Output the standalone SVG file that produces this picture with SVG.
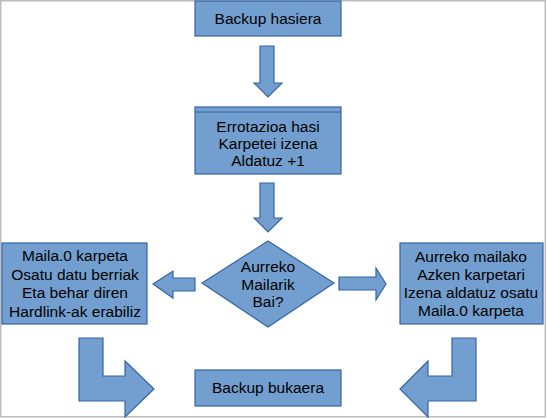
<svg xmlns="http://www.w3.org/2000/svg" width="547" height="418" viewBox="0 0 547 418">
<style>
.s{fill:#729fcf;stroke:#3465a4;stroke-width:1.2}
.t{font-family:"Liberation Sans",Arial,sans-serif;font-size:15.5px;fill:#000;text-anchor:middle}
</style>
<rect x="0.75" y="0.75" width="544.5" height="416" fill="#fff" stroke="#bdbdbd" stroke-width="1.5"/>
<g id="connectors">
<polygon class="s" points="260,46 274,46 274,83 282,83 268,97 254,83 260,83"/>
<polygon class="s" points="260,183 274,183 274,218 282,218 268,232 254,218 260,218"/>
<polygon class="s" points="195,278 173,278 173,271 153,284 173,298 173,291 195,291"/>
<polygon class="s" points="339,277 376,277 376,268 386,284 376,300 376,290 339,290"/>
<polygon class="s" points="79,338 103,338 103,376 125,376 125,361 154,389 125,417 125,401 79,401"/>
<polygon class="s" points="476,338 476,401 428,401 428,417 400,389 428,361 428,376 452,376 452,338"/>
</g>
<g id="start">
<rect class="s" x="195" y="1" width="146" height="35"/>
<text class="t" x="268" y="24">Backup hasiera</text>
</g>
<g id="rotate">
<rect class="s" x="195" y="107" width="146" height="67"/>
<line x1="195" y1="112" x2="341" y2="112" stroke="#3465a4" stroke-width="1.2"/>
<text class="t" x="268" y="132">Errotazioa hasi</text>
<text class="t" x="268" y="149">Karpetei izena</text>
<text class="t" x="268" y="166">Aldatuz +1</text>
</g>
<g id="decision">
<polygon class="s" points="268,241 334,283 268,327 202,283"/>
<text class="t" x="268" y="272">Aurreko</text>
<text class="t" x="268" y="290">Mailarik</text>
<text class="t" x="268" y="307">Bai?</text>
</g>
<g id="left">
<rect class="s" x="2" y="243" width="145" height="81"/>
<text class="t" x="75" y="261">Maila.0 karpeta</text>
<text class="t" x="75" y="280">Osatu datu berriak</text>
<text class="t" x="75" y="298">Eta behar diren</text>
<text class="t" x="75" y="317">Hardlink-ak erabiliz</text>
</g>
<g id="right">
<rect class="s" x="400" y="243" width="143" height="81"/>
<text class="t" x="471" y="262">Aurreko mailako</text>
<text class="t" x="471" y="280">Azken karpetari</text>
<text class="t" x="471" y="298">Izena aldatuz osatu</text>
<text class="t" x="471" y="316">Maila.0 karpeta</text>
</g>
<g id="end">
<rect class="s" x="195" y="370" width="146" height="36"/>
<text class="t" x="268" y="393">Backup bukaera</text>
</g>
</svg>
